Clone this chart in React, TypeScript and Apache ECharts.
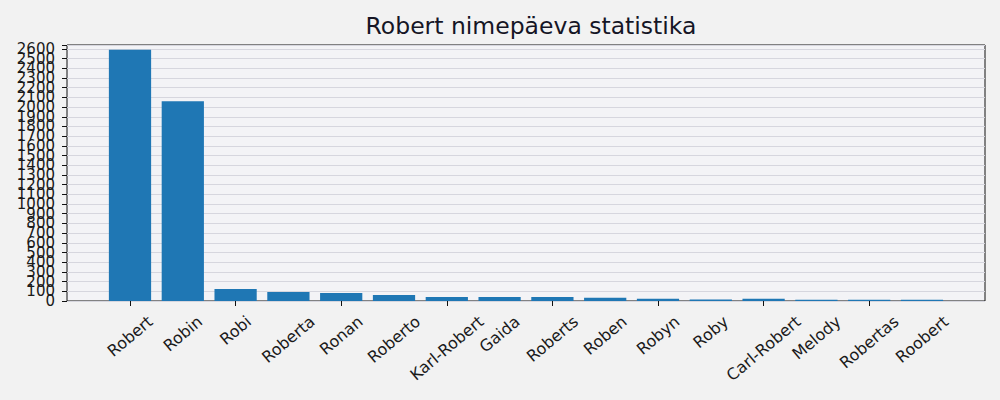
import React, { useEffect, useRef } from "react";
import * as echarts from "echarts";

const categories = [
  "Robert", "Robin", "Robi", "Roberta", "Ronan", "Roberto", "Karl-Robert", "Gaida",
  "Roberts", "Roben", "Robyn", "Roby", "Carl-Robert", "Melody", "Robertas", "Roobert",
];
const values = [2590, 2060, 124, 93, 82, 62, 42, 42, 42, 33, 24, 16, 22, 14, 14, 14];
const yTickLabels = [
  0, 100, 200, 300, 400, 500, 600, 700, 800, 900, 1000, 1100, 1200, 1300,
  1400, 1500, 1600, 1700, 1800, 1900, 2000, 2100, 2200, 2300, 2400, 2500, 2600,
];
const yMax = 2640;
const yInterval = 100;
const title = "Robert nimepäeva statistika";

const FONT = "'DejaVu Sans', sans-serif";
const Y_LABEL_SIZE = 15;
const X_LABEL_SIZE = 16;
const ROT = 40;
const TEXT_COLOR = "#1a1a1a";

function measure(text: string, size: number): number {
  const c = document.createElement("canvas");
  const ctx = c.getContext("2d")!;
  ctx.font = `${size}px 'DejaVu Sans'`;
  return ctx.measureText(text).width;
}

export default function App() {
  const ref = useRef<HTMLDivElement>(null);
  useEffect(() => {
    const chart = echarts.init(ref.current!, null, { renderer: "svg" });
    const gridTop = 45;
    const gridBottom = 99;
    const gridLeft = 67;
    const gridRight = 15;
    const option: any = {
      animation: false,
      backgroundColor: "#f2f2f2",
      title: {
        text: title,
        left: (gridLeft + (1000 - gridRight)) / 2,
        textAlign: "center",
        top: 9,
        textStyle: { fontFamily: FONT, fontSize: 23.5, fontWeight: "normal", color: "#151525" },
      },
      grid: [
        {
          left: gridLeft, right: gridRight, top: gridTop, bottom: gridBottom,
          show: true, backgroundColor: "#f3f3f6", borderColor: "#111", borderWidth: 1,
        },
        { left: 103.6, right: 51.6, top: gridTop, bottom: gridBottom },
      ],
      xAxis: [
        { gridIndex: 0, type: "value", min: 0, max: 1, show: false },
        {
          gridIndex: 1,
          type: "category",
          data: categories,
          axisLine: { show: false },
          axisTick: { show: true, alignWithLabel: true, length: 5, lineStyle: { color: "#111" } },
          axisLabel: { show: false },
          splitLine: { show: false },
        },
      ],
      yAxis: [
        {
          gridIndex: 0,
          type: "value",
          min: 0,
          max: yMax,
          interval: yInterval,
          axisLine: { show: false },
          axisTick: { show: true, length: 5, lineStyle: { color: "#111" } },
          axisLabel: { show: false },
          splitLine: { show: true, lineStyle: { color: "#d6d6de", width: 1 } },
        },
        { gridIndex: 1, type: "value", min: 0, max: yMax, show: false },
      ],
      series: [
        {
          type: "bar",
          xAxisIndex: 1,
          yAxisIndex: 1,
          data: values,
          barCategoryGap: "20%",
          itemStyle: { color: "#1f77b4" },
        },
      ],
    };
    chart.setOption(option);

    const axisY = 400 - gridBottom;
    const top = axisY + 5 + 6;
    const rad = (ROT * Math.PI) / 180;
    const lineH = X_LABEL_SIZE * 1.17;
    const xLabels = categories.map((c) => {
      const x = chart.convertToPixel({ xAxisIndex: 1 } as any, c) as unknown as number;
      const w = measure(c, X_LABEL_SIZE);
      const H = w * Math.sin(rad) + lineH * Math.cos(rad);
      return {
        type: "text",
        x,
        y: top + H / 2,
        rotation: rad,
        style: {
          text: c,
          fontFamily: FONT,
          fontSize: X_LABEL_SIZE,
          fill: TEXT_COLOR,
          align: "center",
          verticalAlign: "middle",
        },
      };
    });
    const yLabels = yTickLabels.map((v) => {
      const y = chart.convertToPixel({ yAxisIndex: 0 } as any, v) as unknown as number;
      return {
        type: "text",
        x: gridLeft - 12,
        y,
        style: {
          text: String(v),
          fontFamily: FONT,
          fontSize: Y_LABEL_SIZE,
          fill: TEXT_COLOR,
          align: "right",
          verticalAlign: "middle",
        },
      };
    });
    chart.setOption({ graphic: [...yLabels, ...xLabels] });

    return () => chart.dispose();
  }, []);
  return <div ref={ref} style={{ position: "fixed", left: 0, top: 0, width: 1000, height: 400 }} />;
}
